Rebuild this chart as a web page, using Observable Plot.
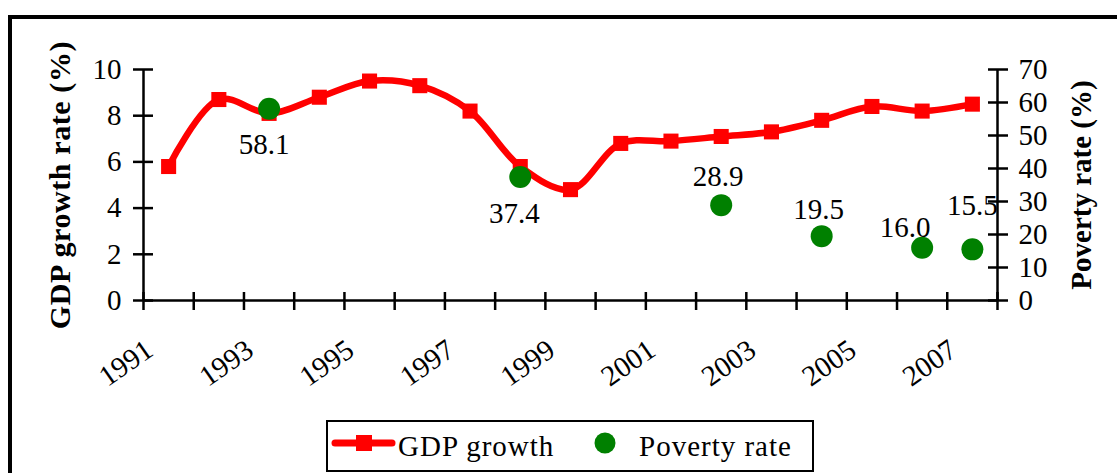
<!DOCTYPE html>
<html>
<head>
<meta charset="utf-8">
<script src="https://cdn.jsdelivr.net/npm/d3@7"></script>
<script src="https://cdn.jsdelivr.net/npm/@observablehq/plot@0.6"></script>
<style>
  html, body { margin: 0; padding: 0; background: #fff; overflow: hidden; }
  body { width: 1117px; height: 473px; position: relative; font-family: 'Liberation Serif', serif; }
  #frame { position: absolute; left: 8px; top: 15px; width: 1200px; height: 600px; border: 4.5px solid #000; box-sizing: border-box; }
  #chart { position: absolute; left: 0; top: 0; }
  #chart svg, #chart svg text { font-family: 'Liberation Serif', serif !important; }
  #legend { position: absolute; left: 326px; top: 420px; width: 488px; height: 52px; border: 2px solid #000; box-sizing: border-box; background: #fff; font-size: 29px; color: #000; font-family: 'Liberation Serif', serif; }
  #legend .t { position: absolute; top: 7px; white-space: nowrap; letter-spacing: 1px; line-height: 34px; }
  #legend svg { position: absolute; left: 0; top: 0; }
</style>
</head>
<body>
<div id="frame"></div>
<div id="chart"></div>
<div id="legend"></div>
<script>
// ---- data ----
const gdpYears = [1991, 1992, 1993, 1994, 1995, 1996, 1997, 1998, 1999, 2000, 2001, 2002, 2003, 2004, 2005, 2006, 2007];
const gdpGrowth = [5.8, 8.7, 8.1, 8.8, 9.5, 9.3, 8.2, 5.8, 4.8, 6.8, 6.9, 7.1, 7.3, 7.8, 8.4, 8.2, 8.5];
const povertyYears = [1993, 1998, 2002, 2004, 2006, 2007];
const povertyRate = [58.1, 37.4, 28.9, 19.5, 16.0, 15.5];
const leftTicks = [0, 2, 4, 6, 8, 10];
const rightTicks = [0, 10, 20, 30, 40, 50, 60, 70];
const xTickLabels = [1991, 1993, 1995, 1997, 1999, 2001, 2003, 2005, 2007];
const leftMax = 10, rightMax = 70;
const seriesNames = ["GDP growth", "Poverty rate"];
const yTitles = ["GDP growth rate (%)", "Poverty rate (%)"];

// ---- tables ----
const gdp = gdpYears.map((year, i) => ({year, value: gdpGrowth[i]}));
const poverty = povertyYears.map((year, i) => ({year, rate: povertyRate[i]}));
const toLeft = v => v * leftMax / rightMax;
const bounds = gdpYears.map(y => y - 0.5).concat([gdpYears[gdpYears.length - 1] + 0.5]);

// label nudges (annotation placement)
const nudge = {1993: [-5, 36], 1998: [-6, 37], 2002: [-3, -28], 2004: [-3, -26], 2006: [-17, -20], 2007: [0, -44]};

const RED = "#ff0000", GREEN = "#008000";
const AX = 2.5;
const FONT = "'Liberation Serif', serif";

const chart = Plot.plot({
  width: 1117,
  height: 400,
  marginLeft: 143,
  marginRight: 120,
  marginTop: 69,
  marginBottom: 100,
  x: {type: "linear", domain: [bounds[0], bounds[bounds.length - 1]]},
  y: {domain: [0, leftMax]},
  style: {fontFamily: FONT, fontSize: "29px", color: "#000", background: "transparent", overflow: "visible"},
  marks: [
    Plot.ruleY([0], {stroke: "#000", strokeWidth: AX}),
    Plot.ruleX([bounds[0], bounds[bounds.length - 1]], {stroke: "#000", strokeWidth: AX}),
    Plot.axisY({anchor: "left", ticks: leftTicks, tickSize: 20, dx: 10, tickPadding: 12, strokeWidth: AX, label: null, tickFormat: d => String(d), fontSize: 29}),
    Plot.axisY({anchor: "right", ticks: rightTicks.map(toLeft), tickSize: 20, dx: -10, tickPadding: 11, strokeWidth: AX, label: null, fontSize: 29,
      tickFormat: d => String(Math.round(d * rightMax / leftMax))}),
    Plot.axisX({ticks: bounds, tickSize: 18, dy: -8, strokeWidth: AX, label: null, tickFormat: () => ""}),
    Plot.axisX({ticks: xTickLabels, tickSize: 0, tickPadding: 46, tickRotate: -35, dx: -19, label: null, fontSize: 29, tickFormat: d => String(d)}),
    Plot.text([yTitles[0]], {frameAnchor: "left", rotate: -90, dx: -83, fontWeight: "bold", fontSize: 30, fill: "#000", textAnchor: "middle"}),
    Plot.text([yTitles[1]], {frameAnchor: "right", rotate: -90, dx: 84, fontWeight: "bold", fontSize: 29, fill: "#000", textAnchor: "middle"}),
    Plot.line(gdp, {x: "year", y: "value", stroke: RED, strokeWidth: 6.5, curve: "catmull-rom"}),
    Plot.dot(gdp, {x: "year", y: "value", symbol: "square", r: 8.5, fill: RED, stroke: "none"}),
    Plot.dot(poverty, {x: "year", y: d => toLeft(d.rate), r: 11, fill: GREEN, stroke: "none"}),
    ...povertyYears.map((yr, i) => Plot.text([poverty[i]], {
      x: "year", y: d => toLeft(d.rate), text: d => d.rate.toFixed(1), fill: "#000", fontSize: 29,
      dx: nudge[yr][0], dy: nudge[yr][1]
    }))
  ]
});
document.getElementById("chart").appendChild(chart);
// slightly wider spacing on the left title to match the original face
d3.select(chart).selectAll("text").filter(function () { return this.textContent === yTitles[0]; }).style("letter-spacing", "0.6px");

// legend
const lg = document.getElementById("legend");
lg.innerHTML = `
<svg width="488" height="52">
  <line x1="7" x2="64" y1="21" y2="21" stroke="${RED}" stroke-width="7" stroke-linecap="round"/>
  <rect x="28" y="13" width="16" height="16" fill="${RED}"/>
  <circle cx="277" cy="21" r="10.5" fill="${GREEN}"/>
</svg>
<div class="t" style="left:70px">${seriesNames[0]}</div>
<div class="t" style="left:311px">${seriesNames[1]}</div>`;
</script>
</body>
</html>
